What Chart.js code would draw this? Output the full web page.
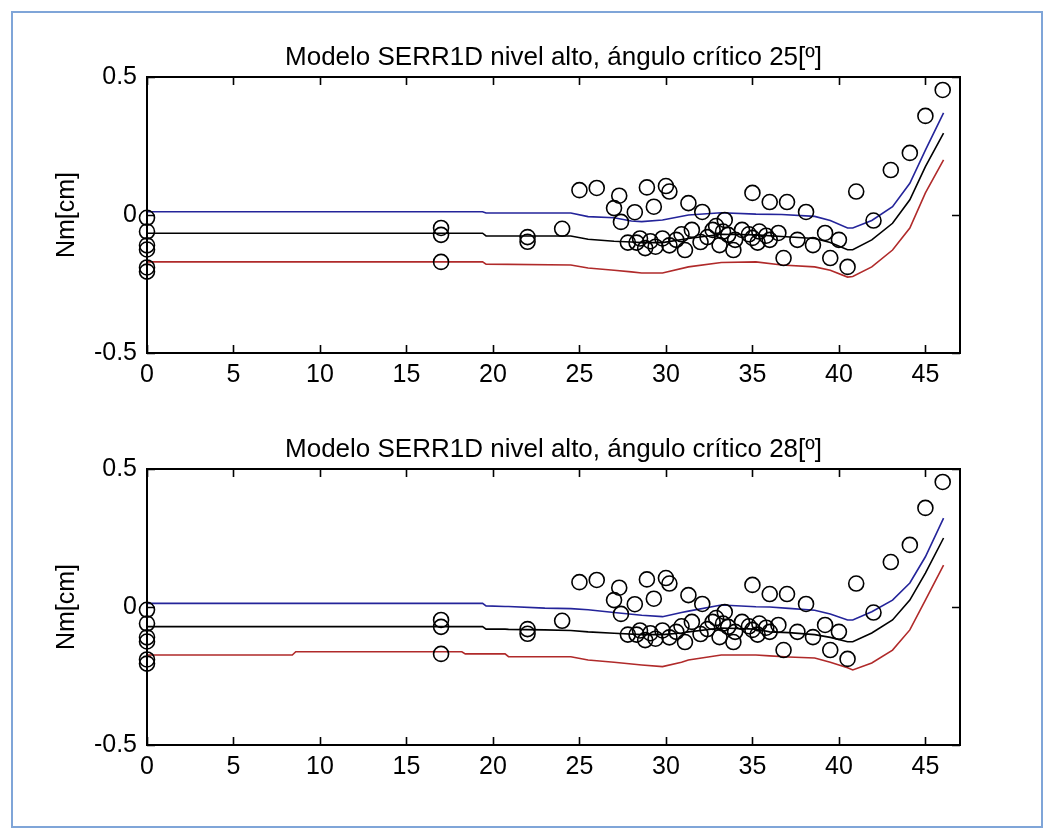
<!DOCTYPE html>
<html>
<head>
<meta charset="utf-8">
<script src="https://cdn.jsdelivr.net/npm/chart.js@4.4.1/dist/chart.umd.min.js"></script>
<style>
  html, body { margin: 0; padding: 0; background: #ffffff; }
  body { width: 1057px; height: 833px; position: relative; overflow: hidden; }
  #frame { position: absolute; left: 11px; top: 11px; width: 1032px; height: 817px;
           border: 2px solid #7fa5d8; box-sizing: border-box; }
  canvas { position: absolute; left: 0; }
  #c1 { top: 0; }
  #c2 { top: 392px; }
</style>
</head>
<body>
<div id="frame"></div>
<canvas id="c1" width="1057" height="400"></canvas>
<canvas id="c2" width="1057" height="400"></canvas>
<script>
// ---------- data ----------
const titles = ['Modelo SERR1D nivel alto, ángulo crítico 25[º]',
                'Modelo SERR1D nivel alto, ángulo crítico 28[º]'];
const yLabel = 'Nm[cm]';
const xTicks = [0, 5, 10, 15, 20, 25, 30, 35, 40, 45];
const yTicks = [-0.5, 0, 0.5];

// observed points (same in both panels)
const obsX = [0,0,0,0,0,0, 17,17,17, 22,22, 24,
  25,26,27.3,27,27.4,28.2,27.8,28.5,28.8,28.9,
  29.3,30.0,30.2,29.8,29.4,30.2,30.6,31.1,31.3,31.5,
  32.1,32.0,32.7,33.1,33.4,33.6,33.9,34.4,35.0,35.0,
  35.4,35.3,36.0,36.0,36.5,37.0,36.8,37.6,38.1,38.5,
  39.2,39.5,40.0,40.5,41.0,42.0,43.0,44.1,45.0,46.0,
  32.4,32.9,33.3,34.0,34.8,35.8,29.1,30.9,28.3];
const obsY = [-0.01,-0.06,-0.11,-0.125,-0.19,-0.205, -0.047,-0.072,-0.17, -0.08,-0.097, -0.05,
  0.09,0.098,0.07,0.025,-0.025,0.01,-0.10,-0.085,-0.12,0.10,
  0.03,0.105,0.085,-0.085,-0.115,-0.11,-0.09,-0.127,0.043,-0.054,
  0.011,-0.098,-0.054,-0.109,-0.018,-0.072,-0.127,-0.054,-0.083,0.08,
  -0.06,-0.10,0.047,-0.09,-0.065,0.047,-0.156,-0.09,0.011,-0.109,
  -0.065,-0.156,-0.09,-0.188,0.085,-0.02,0.163,0.225,0.359,0.453,
  -0.08,-0.04,-0.06,-0.09,-0.07,-0.075,-0.095,-0.07,-0.1];

// model curves, critical angle 25
const x25 = [0,19.4,19.6,24.5,25.5,27,28,28.6,29.8,31.3,33.2,35.2,36.7,38.6,39.5,40.5,40.8,41.9,43.1,44.1,45,46.05];
const upper25 = [0.012,0.012,0.007,0.007,-0.006,-0.01,-0.022,-0.024,-0.018,0.0,0.008,0.003,0.002,-0.005,-0.02,-0.047,-0.047,-0.02,0.03,0.115,0.235,0.37];
const mid25   = [-0.066,-0.066,-0.076,-0.076,-0.088,-0.095,-0.098,-0.1,-0.1,-0.085,-0.07,-0.072,-0.078,-0.085,-0.1,-0.126,-0.126,-0.09,-0.03,0.055,0.175,0.297];
const lower25 = [-0.17,-0.17,-0.178,-0.181,-0.192,-0.2,-0.206,-0.21,-0.21,-0.188,-0.172,-0.17,-0.181,-0.188,-0.2,-0.225,-0.223,-0.188,-0.127,-0.047,0.08,0.2];

// model curves, critical angle 28
const x28 = [0,8.4,8.6,18.2,18.4,19.4,19.6,20.7,20.9,23,24.5,25.5,27,28.6,29.8,30.9,31.3,33.2,35.2,36,37.1,38.6,39.5,40.5,40.8,41.9,43.1,44.1,45,46.05];
const upper28 = [0.013,0.013,0.013,0.013,0.013,0.013,0.004,0.002,0.002,-0.004,-0.006,-0.01,-0.02,-0.03,-0.035,-0.02,-0.015,0.007,0.001,0.0,-0.005,-0.012,-0.025,-0.047,-0.047,-0.017,0.025,0.087,0.182,0.322];
const mid28   = [-0.071,-0.071,-0.071,-0.071,-0.071,-0.071,-0.08,-0.08,-0.081,-0.083,-0.085,-0.09,-0.095,-0.1,-0.1,-0.094,-0.09,-0.076,-0.08,-0.09,-0.093,-0.1,-0.11,-0.126,-0.126,-0.094,-0.047,0.025,0.123,0.25];
const lower28 = [-0.174,-0.174,-0.162,-0.162,-0.17,-0.17,-0.17,-0.17,-0.18,-0.18,-0.18,-0.192,-0.2,-0.21,-0.216,-0.2,-0.192,-0.174,-0.174,-0.177,-0.181,-0.185,-0.2,-0.22,-0.228,-0.203,-0.156,-0.083,0.025,0.152];

// ---------- rendering ----------
const FONT = '"Liberation Sans", Arial, sans-serif';
const zip = (xs, ys) => xs.map((x, i) => ({ x: x, y: ys[i] }));

const matlabAxes = {
  id: 'matlabAxes',
  afterDraw(chart, args, opts) {
    const ctx = chart.ctx, a = chart.chartArea;
    const xs = chart.scales.x, ys = chart.scales.y;
    const TL = 8;
    ctx.save();
    ctx.strokeStyle = '#000';
    ctx.lineWidth = 1.6;
    ctx.beginPath();
    xTicks.forEach(v => {
      const p = Math.round(xs.getPixelForValue(v)) + 0.5;
      ctx.moveTo(p, a.bottom); ctx.lineTo(p, a.bottom - TL);
      ctx.moveTo(p, a.top); ctx.lineTo(p, a.top + TL);
    });
    yTicks.forEach(v => {
      const p = Math.round(ys.getPixelForValue(v)) + 0.5;
      ctx.moveTo(a.left, p); ctx.lineTo(a.left + TL, p);
      ctx.moveTo(a.right, p); ctx.lineTo(a.right - TL, p);
    });
    ctx.stroke();
    ctx.lineWidth = 2;
    ctx.strokeRect(a.left, a.top, a.right - a.left, a.bottom - a.top);
    ctx.fillStyle = '#000';
    ctx.font = '26px ' + FONT;
    ctx.textAlign = 'center';
    ctx.textBaseline = 'alphabetic';
    ctx.fillText(opts.title, (a.left + a.right) / 2, a.top - 12);
    ctx.font = '25px ' + FONT;
    ctx.translate(67, (a.top + a.bottom) / 2);
    ctx.rotate(-Math.PI / 2);
    ctx.textBaseline = 'middle';
    ctx.fillText(yLabel, 0, 0);
    ctx.restore();
  }
};

function makeChart(id, title, cx, up, mid, low) {
  const line = (data, color) => ({
    type: 'line', data: data, borderColor: color, borderWidth: 1.6,
    pointRadius: 0, fill: false, tension: 0
  });
  return new Chart(document.getElementById(id), {
    type: 'scatter',
    data: {
      datasets: [
        { type: 'scatter', data: zip(obsX, obsY), pointStyle: 'circle', pointRadius: 7.5,
          pointBorderWidth: 1.6, pointBorderColor: '#000', pointBackgroundColor: 'rgba(0,0,0,0)',
          clip: false },
        line(zip(cx, up), '#24249a'),
        line(zip(cx, mid), '#000000'),
        line(zip(cx, low), '#b02a2a')
      ]
    },
    options: {
      responsive: false, animation: false, devicePixelRatio: 1,
      layout: { padding: { top: 77, right: 97, left: 0, bottom: 0 }, autoPadding: false },
      plugins: { legend: { display: false }, tooltip: { enabled: false }, title: { display: false },
                 matlabAxes: { title: title } },
      scales: {
        x: {
          type: 'linear', min: 0, max: 47,
          grid: { display: false, drawTicks: false }, border: { display: false },
          afterBuildTicks: s => { s.ticks = xTicks.map(v => ({ value: v })); },
          afterFit: s => { s.height = 47; },
          ticks: { padding: 7, color: '#000', maxRotation: 0, autoSkip: false,
                   font: { family: FONT, size: 25 }, callback: v => String(v) }
        },
        y: {
          type: 'linear', min: -0.5, max: 0.5,
          grid: { display: false, drawTicks: false }, border: { display: false },
          afterBuildTicks: s => { s.ticks = yTicks.map(v => ({ value: v })); },
          afterFit: s => { s.width = 147; },
          ticks: { padding: 10, color: '#000', autoSkip: false,
                   font: { family: FONT, size: 25 }, callback: v => String(v) }
        }
      }
    },
    plugins: [matlabAxes]
  });
}

makeChart('c1', titles[0], x25, upper25, mid25, lower25);
makeChart('c2', titles[1], x28, upper28, mid28, lower28);
</script>
</body>
</html>
